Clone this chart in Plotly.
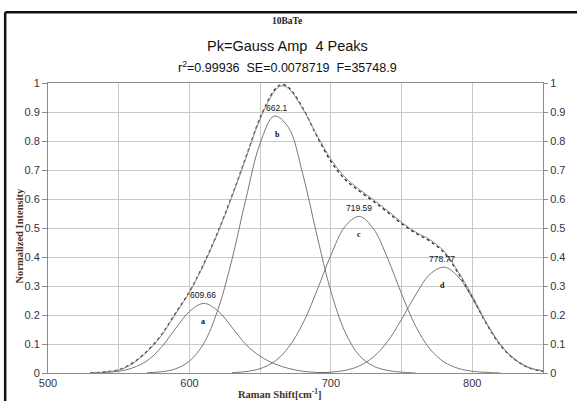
import plotly.graph_objects as go

# ---- data ----
x_obs = [530, 540, 550, 560, 570, 580, 590, 600, 610, 620, 630, 640, 650, 660, 665, 670,
         680, 690, 700, 710, 720, 730, 740, 750, 760, 770, 780, 790, 800, 810, 820, 830, 840, 850]
y_obs = [0.0, 0.004, 0.011, 0.035, 0.075, 0.13, 0.205, 0.28, 0.375, 0.485, 0.61, 0.745, 0.88, 0.975, 0.995, 0.985,
         0.915, 0.818, 0.73, 0.668, 0.628, 0.592, 0.555, 0.515, 0.482, 0.455, 0.415, 0.345, 0.262, 0.17, 0.095, 0.047, 0.018, 0.006]
y_fit = [0.0, 0.003, 0.010, 0.033, 0.073, 0.128, 0.202, 0.278, 0.372, 0.482, 0.607, 0.742, 0.876, 0.97, 0.99, 0.981,
         0.912, 0.822, 0.738, 0.675, 0.634, 0.598, 0.56, 0.52, 0.486, 0.46, 0.42, 0.35, 0.266, 0.173, 0.097, 0.048, 0.019, 0.007]

x_a = [530, 540, 550, 560, 570, 580, 590, 600, 610, 620, 630, 640, 650, 660, 670, 680, 690, 700]
y_a = [0.0, 0.002, 0.006, 0.018, 0.042, 0.088, 0.152, 0.212, 0.24, 0.215, 0.158, 0.098, 0.058, 0.032, 0.016, 0.006, 0.002, 0.0]

x_b = [570, 580, 590, 600, 610, 620, 630, 640, 650, 660, 670, 680, 690, 700, 710, 720, 730, 740, 750, 760]
y_b = [0.001, 0.004, 0.014, 0.041, 0.101, 0.216, 0.39, 0.602, 0.792, 0.886, 0.847, 0.689, 0.478, 0.282, 0.142, 0.061, 0.024, 0.009, 0.003, 0.0]

x_c = [630, 640, 650, 660, 670, 680, 690, 700, 710, 720, 730, 740, 750, 760, 770, 780, 790, 800, 810, 820]
y_c = [0.001, 0.005, 0.015, 0.039, 0.088, 0.169, 0.282, 0.406, 0.505, 0.54, 0.498, 0.397, 0.273, 0.161, 0.083, 0.038, 0.016, 0.006, 0.002, 0.0]

x_d = [690, 700, 710, 720, 730, 740, 750, 760, 770, 780, 790, 800, 810, 820, 830, 840, 850]
y_d = [0.001, 0.003, 0.009, 0.024, 0.055, 0.108, 0.185, 0.27, 0.34, 0.365, 0.332, 0.258, 0.172, 0.097, 0.047, 0.019, 0.007]

peak_centers = [609.66, 662.1, 719.59, 778.77]
peak_amps = [0.24, 0.886, 0.54, 0.365]
peak_labels = ["609.66", "662.1", "719.59", "778.77"]
peak_letters = ["a", "b", "c", "d"]

x_ticks = [500, 600, 700, 800]
y_ticks = [0, 0.1, 0.2, 0.3, 0.4, 0.5, 0.6, 0.7, 0.8, 0.9, 1]

title_main = "Pk=Gauss Amp  4 Peaks"
title_top = "10BaTe"
title_stats = "r<sup>2</sup>=0.99936  SE=0.0078719  F=35748.9"
x_title = "Raman Shift[cm<sup>-1</sup>]"
y_title = "Normalized Intensity"

# ---- figure ----
fig = go.Figure()
comp_line = dict(color="#6a6a6a", width=0.9, shape="spline", smoothing=1.0)
for xs, ys in [(x_a, y_a), (x_b, y_b), (x_c, y_c), (x_d, y_d)]:
    fig.add_trace(go.Scatter(x=xs, y=ys, mode="lines", line=comp_line, showlegend=False, hoverinfo="skip"))

fig.add_trace(go.Scatter(x=x_obs, y=y_fit, mode="lines", yaxis="y2",
                         line=dict(color="#8a8a8a", width=1.0, shape="spline", smoothing=1.0),
                         showlegend=False, hoverinfo="skip"))
fig.add_trace(go.Scatter(x=x_obs, y=y_obs, mode="lines",
                         line=dict(color="#2a2a2a", width=1.3, dash="dot", shape="spline", smoothing=1.0),
                         showlegend=False, hoverinfo="skip"))

tick_font = dict(family="Liberation Sans, Arial, sans-serif", size=11, color="#333344")
grid_col = "#c8c8c8"
axis_col = "#8c8c8c"

annotations = []
for cx, amp, lab, let in zip(peak_centers, peak_amps, peak_labels, peak_letters):
    annotations.append(dict(x=cx, y=amp, xref="x", yref="y", text=lab, showarrow=False,
                            yshift=8, font=dict(family="Liberation Sans, Arial", size=8.5, color="#111")))
    annotations.append(dict(x=cx, y=amp, xref="x", yref="y", text="<b>" + let + "</b>", showarrow=False,
                            yshift=-18, font=dict(family="Liberation Serif, Times New Roman", size=8, color="#111")))

annotations += [
    dict(x=0.4837, y=1.2128, xref="paper", yref="paper", text="<b>" + title_top + "</b>", showarrow=False,
         yanchor="middle", font=dict(family="Liberation Serif, Times New Roman", size=9.5, color="#222")),
    dict(x=0.4837, y=1.1266, xref="paper", yref="paper", text=title_main, showarrow=False,
         yanchor="middle", font=dict(family="Liberation Sans, Arial", size=14.5, color="#111")),
    dict(x=0.4837, y=1.0541, xref="paper", yref="paper", text=title_stats, showarrow=False,
         yanchor="middle", font=dict(family="Liberation Sans, Arial", size=12.5, color="#111")),
    dict(x=-0.058, y=0.475, xref="paper", yref="paper", text="<b>" + y_title + "</b>", showarrow=False,
         textangle=-90, xanchor="center", yanchor="middle",
         font=dict(family="Liberation Serif, Times New Roman", size=10.5, color="#4a3020")),
    dict(x=0.4667, y=-0.07, xref="paper", yref="paper", text="<b>" + x_title + "</b>", showarrow=False,
         xanchor="center", yanchor="middle",
         font=dict(family="Liberation Serif, Times New Roman", size=10.5, color="#4a3020")),
]

fig.update_layout(
    width=577, height=401, autosize=False,
    margin=dict(l=48, r=29, t=83, b=28, pad=0),
    paper_bgcolor="white", plot_bgcolor="white",
    showlegend=False,
    xaxis=dict(range=[500, 850], tickvals=x_ticks, ticktext=[str(v) for v in x_ticks],
               showgrid=True, gridcolor=grid_col, gridwidth=1,
               minor=dict(dtick=50, tick0=500, showgrid=True, gridcolor=grid_col, gridwidth=1),
               showline=True, linecolor=axis_col, linewidth=1, mirror=True,
               ticks="", tickfont=tick_font, zeroline=False),
    yaxis=dict(range=[0, 1], tickvals=y_ticks, ticktext=[("%g" % v) for v in y_ticks],
               showgrid=True, gridcolor=grid_col, gridwidth=1,
               showline=True, linecolor=axis_col, linewidth=1,
               ticks="outside", ticklen=5, tickcolor=axis_col, tickfont=tick_font, zeroline=False),
    yaxis2=dict(range=[0, 1], overlaying="y", side="right", tickvals=y_ticks,
                ticktext=[("%g" % v) for v in y_ticks], showgrid=False,
                showline=True, linecolor=axis_col, linewidth=1,
                ticks="outside", ticklen=4, tickcolor=axis_col, tickfont=tick_font, zeroline=False),
    annotations=annotations,
    shapes=[
        dict(type="line", xref="paper", yref="paper", x0=-0.0865, x1=1.1, y0=1.2438, y1=1.2438,
             line=dict(color="#111", width=2.5)),
        dict(type="line", xref="paper", yref="paper", x0=-0.0865, x1=-0.0865, y0=-0.2, y1=1.2438,
             line=dict(color="#111", width=2.5)),
    ],
)

fig.write_html("out.html", config={"displayModeBar": False},
               post_script="document.body.style.margin='0';document.body.style.overflow='hidden';")
